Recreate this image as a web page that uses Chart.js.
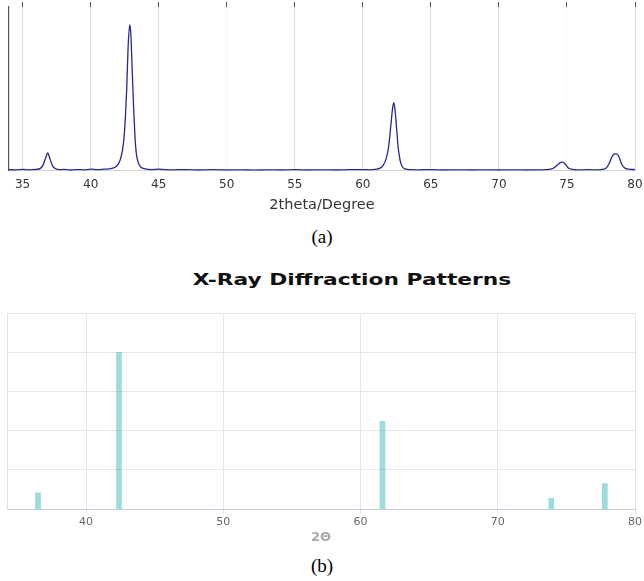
<!DOCTYPE html>
<html>
<head>
<meta charset="utf-8">
<script src="https://cdn.jsdelivr.net/npm/chart.js@4"></script>
<style>
  body { margin: 0; background: #fff; width: 644px; height: 581px; position: relative; overflow: hidden; }
  .box { position: absolute; left: 0; width: 644px; }
  .cap { position: absolute; left: 0; width: 644px; text-align: center; font-family: "Liberation Serif", "Times New Roman", serif; font-size: 19px; color: #000; line-height: 20px; }
  #title-b { position: absolute; left: 352px; top: 280px; transform: translate(-50%, -50%) scaleX(1.45); font: bold 15px "DejaVu Sans"; color: #111; white-space: nowrap; }
</style>
</head>
<body>
<div class="box" style="top:0; height:214px"><canvas id="scan-chart"></canvas></div>
<div class="cap" style="top:227px">(a)</div>
<div id="title-b">X-Ray Diffraction Patterns</div>
<div class="box" style="top:306px; height:246px"><canvas id="peak-chart"></canvas></div>
<div class="cap" style="top:556px">(b)</div>
<script>
const scanAngle = [34.0, 34.5, 35.0, 35.5, 36.0, 36.3, 36.5, 36.7, 36.85, 37.0, 37.2, 37.4, 37.7, 38.0, 38.5, 39.0, 39.5, 40.0, 40.5, 41.0,
  41.5, 41.8, 42.0, 42.2, 42.4, 42.55, 42.65, 42.75, 42.87, 42.95, 43.05, 43.15, 43.25, 43.35, 43.5, 43.7, 44.0, 44.5, 45.0, 46.0,
  47.0, 48.0, 49.0, 50.0, 51.0, 52.0, 53.0, 54.0, 55.0, 56.0, 57.0, 58.0, 59.0, 60.0, 60.5, 61.0, 61.3, 61.5, 61.7, 61.9,
  62.05, 62.2, 62.28, 62.38, 62.5, 62.6, 62.75, 62.9, 63.1, 63.5, 64.0, 65.0, 66.0, 67.0, 68.0, 69.0, 70.0, 71.0, 72.0, 73.0,
  73.7, 74.0, 74.3, 74.55, 74.7, 74.9, 75.1, 75.4, 75.8, 76.5, 77.2, 77.7, 77.9, 78.1, 78.3, 78.5, 78.7, 78.85, 79.0, 79.2,
  79.5, 80.0]
const scanIntensity = [0.8, 0.5, 0.9, 0.6, 0.9, 1.5, 3.5, 8.0, 10.9, 7.5, 3.0, 1.4, 0.7, 0.9, 0.5, 0.8, 0.6, 1.0, 0.7, 1.0,
  1.4, 2.2, 3.8, 7.5, 16, 32, 50, 75, 89, 84, 62, 40, 22, 11, 5, 2.2, 1.2, 0.8, 1.0, 0.6,
  0.8, 0.5, 0.7, 0.5, 0.6, 0.4, 0.6, 0.5, 0.7, 0.5, 0.6, 0.5, 0.7, 0.8, 0.6, 1.0, 1.8, 3.5, 7, 15,
  27, 39, 41.6, 36, 24, 14, 6, 2.5, 1.2, 0.7, 0.6, 0.8, 0.5, 0.6, 0.5, 0.6, 0.5, 0.6, 0.5, 0.6,
  0.9, 1.6, 3.5, 5.2, 5.3, 3.8, 1.8, 0.9, 0.6, 0.7, 0.6, 1.0, 1.8, 4.5, 8.5, 10.3, 10.2, 8, 4.5, 2,
  1, 0.8]
const scanTicks = [35, 40, 45, 50, 55, 60, 65, 70, 75, 80]

// (b) reference peak positions
const peakAngle = [36.5, 42.4, 61.6, 73.9, 77.8]
const peakIntensity = [10.5, 100, 56, 7, 16.3]
const peakTicks = [40, 50, 60, 70, 80]

Chart.defaults.font.family = "DejaVu Sans"
Chart.defaults.animation = false

const setTicks = (list) => (scale) => { scale.ticks = list.map(v => ({ value: v })) }
// no extra room for the end labels, the margins are set by hand
const noLabelPad = (scale) => { scale.paddingLeft = 0; scale.paddingRight = 0 }

const scanCtx = document.getElementById('scan-chart').getContext('2d')
const scanChart = new Chart(scanCtx, {
  type: 'line',
  data: {
    datasets: [{
      data: scanAngle.map((a, i) => ({ x: a, y: scanIntensity[i] })),
      borderColor: '#27278c',
      borderWidth: 1.3,
      pointRadius: 0,
      cubicInterpolationMode: 'monotone'
    }]
  },
  options: {
    responsive: true,
    maintainAspectRatio: false,
    layout: { padding: { left: 9, right: 9, top: 2, bottom: 2 } },
    plugins: { legend: { display: false }, tooltip: { enabled: false } },
    scales: {
      x: {
        type: 'linear', min: 34, max: 80,
        afterBuildTicks: setTicks(scanTicks),
        afterFit: noLabelPad,
        grid: {
          drawTicks: false,
          color: (c) => (c.tick && (c.tick.value === 50 || c.tick.value === 75)) ? 'rgba(0,0,0,0.03)' : '#dedede'
        },
        border: { color: '#d4d4d4' },
        ticks: { padding: 7, color: '#333', font: { size: 12 } },
        title: { display: true, text: '2theta/Degree', color: '#333', font: { size: 14.5, lineHeight: 0.88 }, padding: { top: 0, bottom: 0 } }
      },
      xTop: {
        type: 'linear', position: 'top', min: 34, max: 80,
        afterBuildTicks: setTicks(scanTicks),
        afterFit: noLabelPad,
        grid: { drawOnChartArea: false, tickLength: 5, color: '#555' },
        border: { display: false },
        ticks: { display: false }
      },
      y: {
        min: 0, max: 100,
        grid: { display: false, drawTicks: false },
        border: { color: '#555', width: 1.2 },
        ticks: { display: false }
      }
    }
  }
})

const peakCtx = document.getElementById('peak-chart').getContext('2d')
const peakChart = new Chart(peakCtx, {
  type: 'bar',
  data: {
    datasets: [{
      data: peakAngle.map((a, i) => ({ x: a, y: peakIntensity[i] })),
      backgroundColor: 'rgba(75, 192, 192, 0.55)',
      barThickness: 5
    }]
  },
  options: {
    responsive: true,
    maintainAspectRatio: false,
    layout: { padding: { left: 7, right: 9, top: 7, bottom: 3 } },
    plugins: { legend: { display: false }, tooltip: { enabled: false } },
    scales: {
      x: {
        type: 'linear', min: 34.24, max: 80, offset: false,
        afterBuildTicks: setTicks(peakTicks),
        afterFit: noLabelPad,
        grid: { color: '#e3e6ec', tickLength: 5, offset: false },
        border: { color: '#c5ccd8' },
        ticks: { padding: 1, color: '#666', font: { size: 11 } },
        title: { display: true, text: '2Θ', color: '#aaa', font: { size: 13, weight: 'bold' }, padding: { top: 0, bottom: 4 } }
      },
      y: {
        min: 0, max: 125,
        ticks: { display: false, stepSize: 25 },
        grid: { color: '#e3e6ec', drawTicks: false },
        border: { color: '#dde1e8' }
      }
    }
  }
})
</script>
</body>
</html>
